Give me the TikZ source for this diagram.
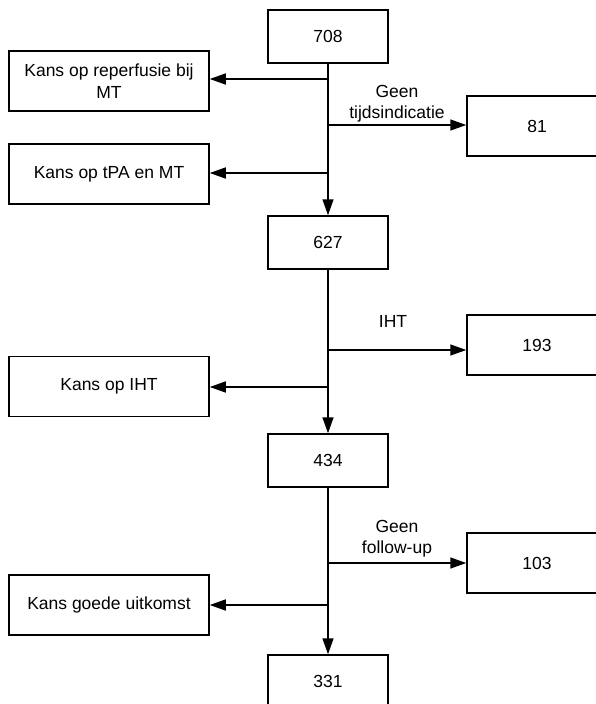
\documentclass[tikz,border=0pt]{standalone}
\usepackage{fontspec}
\setmainfont{Liberation Sans}
\usetikzlibrary{arrows.meta}
\tikzset{
  box/.style={draw, line width=1.5pt, inner sep=0pt, align=center,
    font=\fontsize{17.5}{22}\selectfont},
  mainbox/.style={box, minimum width=120pt, minimum height=53pt},
  sidebox/.style={box, minimum width=200pt, minimum height=60pt},
  outbox/.style={box, minimum width=140pt, minimum height=60pt},
  flow/.style={line width=1.5pt, -{Triangle[length=16pt,width=11pt]}},
  lbl/.style={align=center, inner sep=0pt, font=\fontsize{17.5}{21}\selectfont}
}
\begin{document}
\begin{tikzpicture}[x=1pt,y=-1pt]
\useasboundingbox (0,0) rectangle (595,704);
% main column
\node[mainbox] (n708) at (328,36.5) {708};
\node[mainbox] (n627) at (328,242.5) {627};
\node[mainbox] (n434) at (328,460.5) {434};
\node[mainbox] (n331) at (328,681.5) {331};
% left boxes
\node[sidebox] (reperf) at (109,81) {Kans op reperfusie bij\\MT};
\node[sidebox] (tpa) at (109,174) {Kans op tPA en MT};
\node[sidebox] (iht) at (109,386.5) {Kans op IHT};
\node[sidebox] (goed) at (109,605) {Kans goede uitkomst};
% right boxes
\node[outbox] (n81) at (537,126) {81};
\node[outbox] (n193) at (537,345) {193};
\node[outbox] (n103) at (537,563) {103};
% branch points
\coordinate (b1) at (328,79);
\coordinate (b2) at (328,125);
\coordinate (b3) at (328,173);
\coordinate (b4) at (328,350);
\coordinate (b5) at (328,387);
\coordinate (b6) at (328,563);
\coordinate (b7) at (328,605);
% trunk
\draw[flow] (n708) -- (n627);
\draw[flow] (n627) -- (n434);
\draw[flow] (n434) -- (n331);
% branches
\draw[flow] (b1) -- (b1 -| reperf.east);
\draw[flow] (b2) -- (b2 -| n81.west);
\draw[flow] (b3) -- (b3 -| tpa.east);
\draw[flow] (b4) -- (b4 -| n193.west);
\draw[flow] (b5) -- (b5 -| iht.east);
\draw[flow] (b6) -- (b6 -| n103.west);
\draw[flow] (b7) -- (b7 -| goed.east);
% labels
\node[lbl] (l81) at (397,103.5) {Geen\\tijdsindicatie};
\node[lbl] (l193) at (393,321) {IHT};
\node[lbl] (l103) at (397,539) {Geen\\follow-up};
\end{tikzpicture}
\end{document}
